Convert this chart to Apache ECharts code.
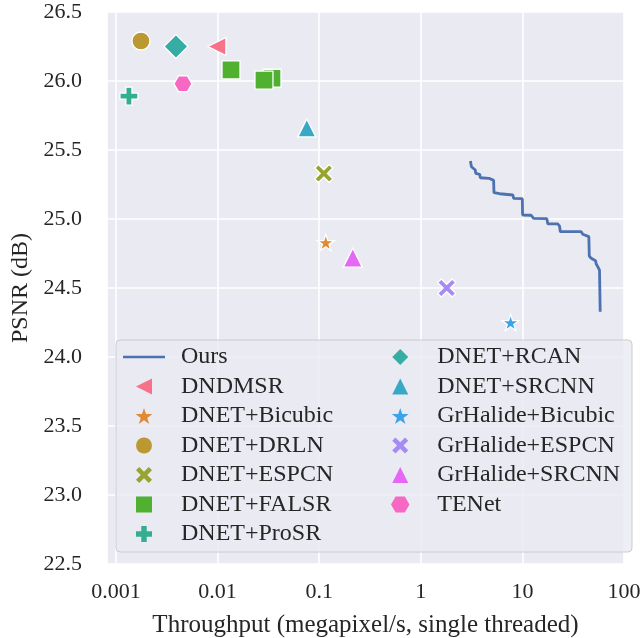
<!DOCTYPE html>
<html>
<head>
<meta charset="utf-8">
<script src="https://cdn.jsdelivr.net/npm/echarts@6/dist/echarts.min.js"></script>
<style>
html,body{margin:0;padding:0;background:#fff;}
#chart{width:644px;height:638px;}
</style>
</head>
<body>
<div id="chart"></div>
<script>
// "Ours" trade-off curve (throughput in megapixel/s, PSNR in dB)
const oursThroughput = [3.08, 3.15, 3.26, 3.44, 3.47, 3.80, 3.85, 4.69, 4.83, 5.21, 5.25, 5.97, 6.21, 8.07, 8.19, 9.98, 10.05, 12.2, 12.9, 17.4, 17.8, 22.3, 23.2, 23.6, 37.9, 39.3, 40.8, 45.1, 45.5, 47.6, 52.5, 53.3, 55.2, 57.4, 58.3];
const oursPSNR = [25.42, 25.379, 25.367, 25.355, 25.331, 25.324, 25.299, 25.295, 25.283, 25.280, 25.191, 25.183, 25.174, 25.174, 25.150, 25.147, 25.029, 25.027, 25.005, 25.002, 24.964, 24.964, 24.949, 24.908, 24.908, 24.889, 24.877, 24.872, 24.732, 24.715, 24.698, 24.674, 24.654, 24.630, 24.328];

// Baseline methods (one entry per point)
const pointMethod = ['DNDMSR', 'DNET+Bicubic', 'DNET+DRLN', 'DNET+ESPCN', 'DNET+FALSR', 'DNET+FALSR', 'DNET+FALSR', 'DNET+ProSR', 'DNET+RCAN', 'DNET+SRCNN', 'GrHalide+Bicubic', 'GrHalide+ESPCN', 'GrHalide+SRCNN', 'TENet'];
const pointThroughput = [0.00985, 0.116, 0.00176, 0.111, 0.01355, 0.0343, 0.0286, 0.00134, 0.00389, 0.0755, 7.65, 1.80, 0.214, 0.00456];
const pointPSNR = [26.25, 24.83, 26.29, 25.33, 26.08, 26.02, 26.007, 25.89, 26.25, 25.66, 24.25, 24.50, 24.72, 25.98];

const methods = ['DNDMSR', 'DNET+Bicubic', 'DNET+DRLN', 'DNET+ESPCN', 'DNET+FALSR', 'DNET+ProSR', 'DNET+RCAN', 'DNET+SRCNN', 'GrHalide+Bicubic', 'GrHalide+ESPCN', 'GrHalide+SRCNN', 'TENet'];
const methodColors = ['#f77189', '#e08a34', '#bb9832', '#97a431', '#50b131', '#34ae91', '#36ada4', '#38a9c5', '#3ba3ec', '#a48cf4', '#e468f4', '#f668c2'];

const legendCol1 = ['Ours', 'DNDMSR', 'DNET+Bicubic', 'DNET+DRLN', 'DNET+ESPCN', 'DNET+FALSR', 'DNET+ProSR'];
const legendCol2 = ['DNET+RCAN', 'DNET+SRCNN', 'GrHalide+Bicubic', 'GrHalide+ESPCN', 'GrHalide+SRCNN', 'TENet'];

const yTicks = [22.5, 23.0, 23.5, 24.0, 24.5, 25.0, 25.5, 26.0, 26.5];

const STAR = 'path://M5,0 L6.123,3.455 L9.755,3.455 L6.817,5.59 L7.939,9.045 L5,6.91 L2.061,9.045 L3.183,5.59 L0.245,3.455 L3.877,3.455 Z';
const XMARK = 'path://M0,2 L2,0 L5,3 L8,0 L10,2 L7,5 L10,8 L8,10 L5,7 L2,10 L0,8 L3,5 Z';
const PLUS = 'path://M3.3,0 L6.7,0 L6.7,3.3 L10,3.3 L10,6.7 L6.7,6.7 L6.7,10 L3.3,10 L3.3,6.7 L0,6.7 L0,3.3 L3.3,3.3 Z';
const HEX = 'path://M0,4.33 L2.5,0 L7.5,0 L10,4.33 L7.5,8.66 L2.5,8.66 Z';
const LTRI = 'path://M0,5 L10,0 L10,10 Z';
const UTRI = 'path://M5,0 L10,10 L0,10 Z';
const SQUARE = 'path://M0,0 L10,0 L10,10 L0,10 Z';
const DIAMOND = 'path://M5,0 L10,5 L5,10 L0,5 Z';
const LINEICON = 'path://M0,0 L42,0 L42,2.6 L0,2.6 Z';
const symbols = {
  'DNDMSR': [LTRI, 18],
  'DNET+Bicubic': [STAR, 17],
  'DNET+DRLN': ['circle', 18],
  'DNET+ESPCN': [XMARK, 18],
  'DNET+FALSR': [SQUARE, 18],
  'DNET+ProSR': [PLUS, 18],
  'DNET+RCAN': [DIAMOND, 24],
  'DNET+SRCNN': [UTRI, 18],
  'GrHalide+Bicubic': [STAR, 17],
  'GrHalide+ESPCN': [XMARK, 18],
  'GrHalide+SRCNN': [UTRI, 19],
  'TENet': [HEX, 18]
};

const FONT = '"Liberation Serif", "DejaVu Serif", serif';
const TXT = '#262626';

const series = [{
  name: 'Ours',
  type: 'line',
  symbol: 'none',
  data: oursThroughput.map((x, i) => [x, oursPSNR[i]]),
  lineStyle: { color: '#4c72b0', width: 2.8 },
  itemStyle: { color: '#4c72b0' },
  z: 3
}];
methods.forEach((m, k) => {
  const data = [];
  pointMethod.forEach((pm, i) => { if (pm === m) data.push([pointThroughput[i], pointPSNR[i]]); });
  series.push({
    name: m,
    type: 'scatter',
    data: data,
    symbol: symbols[m][0],
    symbolSize: symbols[m][1],
    symbolKeepAspect: true,
    itemStyle: { color: methodColors[k], borderColor: '#ffffff', borderWidth: 1.3, opacity: 1 },
    z: 4
  });
});

const legendCommon = {
  orient: 'vertical',
  padding: 0,
  itemWidth: 42,
  itemHeight: 16,
  itemGap: 5.5,
  itemStyle: { borderWidth: 0 },
  textStyle: { fontFamily: FONT, fontSize: 24, color: TXT, lineHeight: 22, padding: [0, 0, 0, 11] },
  z: 10,
  selectedMode: false
};

const chart = echarts.init(document.getElementById('chart'), null, { renderer: 'canvas' });
chart.setOption({
  animation: false,
  backgroundColor: '#ffffff',
  textStyle: { fontFamily: FONT },
  grid: { left: 107, right: 20, top: 12, bottom: 74, containLabel: false, outerBoundsMode: 'none', show: true, backgroundColor: '#eaeaf2', borderWidth: 0 },
  xAxis: {
    type: 'log',
    logBase: 10,
    min: Math.pow(10, -3.0886),
    max: 100,
    name: 'Throughput (megapixel/s, single threaded)',
    nameLocation: 'middle',
    nameGap: 49,
    nameTextStyle: { fontFamily: FONT, fontSize: 25, color: TXT },
    axisLine: { show: false },
    axisTick: { show: false },
    axisLabel: {
      fontFamily: FONT, fontSize: 22, color: TXT, margin: 17, showMinLabel: false,
      formatter: v => String(+(+v).toPrecision(6))
    },
    splitLine: { show: true, lineStyle: { color: '#ffffff', width: 1.6 } },
    minorSplitLine: { show: false }
  },
  yAxis: {
    type: 'value',
    min: yTicks[0],
    max: yTicks[yTicks.length - 1],
    interval: 0.5,
    name: 'PSNR (dB)',
    nameLocation: 'middle',
    nameGap: 74,
    nameRotate: 90,
    nameTextStyle: { fontFamily: FONT, fontSize: 24, color: TXT },
    axisLine: { show: false },
    axisTick: { show: false },
    axisLabel: { fontFamily: FONT, fontSize: 22, color: TXT, margin: 25, formatter: v => (+v).toFixed(1) },
    splitLine: { show: true, lineStyle: { color: '#ffffff', width: 1.6 } }
  },
  graphic: [{
    type: 'rect',
    z: 3,
    shape: { x: 116, y: 340, width: 516, height: 212, r: 4 },
    style: { fill: 'rgba(234,234,242,0.8)', stroke: '#cccccc', lineWidth: 1 }
  }],
  legend: [
    Object.assign({}, legendCommon, {
      left: 123, top: 345,
      data: legendCol1.map(n => n === 'Ours' ? { name: n, icon: LINEICON } : n)
    }),
    Object.assign({}, legendCommon, { left: 391, top: 345, data: legendCol2 })
  ],
  series: series
});
</script>
</body>
</html>
